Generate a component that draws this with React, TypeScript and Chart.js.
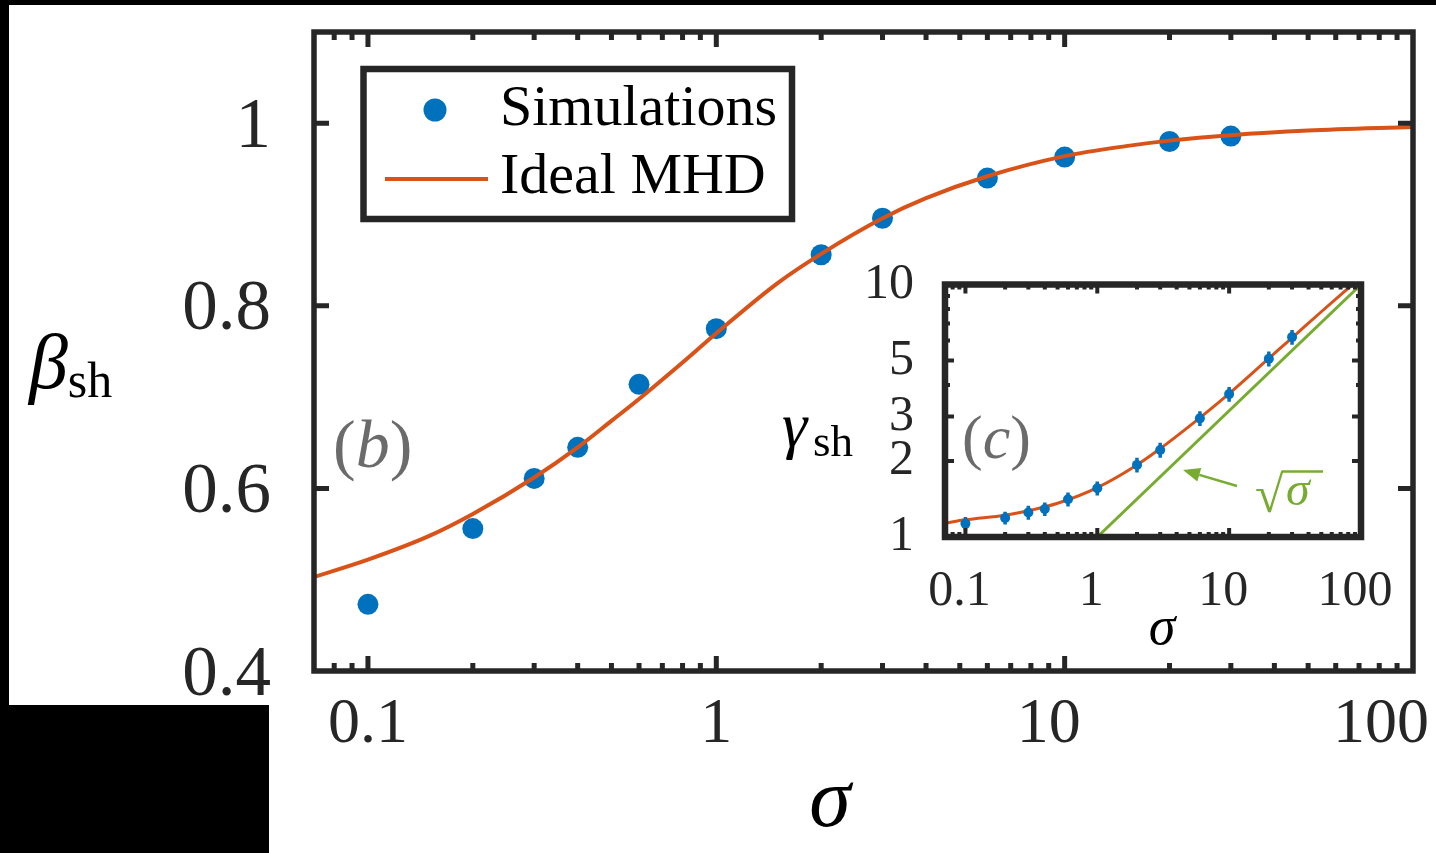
import React, { useEffect, useRef } from 'react';
import { Chart, registerables } from 'chart.js';
Chart.register(...registerables);

// ---------------- data ----------------
const sigmaSim = [0.1, 0.2, 0.3, 0.4, 0.6, 1, 2, 3, 6, 10, 20, 30];
const betaSim = [0.473, 0.556, 0.611, 0.645, 0.714, 0.775, 0.856, 0.896, 0.94, 0.963, 0.98, 0.986];

const sigmaMHD = [0.07, 0.1, 0.15, 0.2, 0.3, 0.4, 0.5, 0.6, 0.8, 1, 1.5, 2, 3, 4, 6, 10, 15, 20, 30, 50, 100];
const betaMHD = [0.503, 0.522, 0.548, 0.572, 0.612, 0.645, 0.674, 0.698, 0.738, 0.77, 0.825, 0.857, 0.896, 0.918, 0.942, 0.964, 0.975, 0.981, 0.987, 0.992, 0.996];

const gammaSim = [1.13, 1.19, 1.25, 1.29, 1.41, 1.56, 1.93, 2.21, 2.95, 3.68, 5.08, 6.19];
const gammaErr = [0.07, 0.07, 0.08, 0.08, 0.09, 0.1, 0.13, 0.15, 0.2, 0.25, 0.35, 0.42];

const sigmaGammaMHD = [0.07, 0.1, 0.2, 0.3, 0.5, 1, 2, 3, 5, 10, 20, 30, 50, 86, 100];
const gammaMHD = [1.135, 1.17, 1.22, 1.27, 1.36, 1.57, 1.93, 2.24, 2.75, 3.7, 5.1, 6.15, 7.8, 10, 10.7];

const sigmaSqrt = [1, 100];
const gammaSqrt = [1, 10];

const xMajorTicks = [0.1, 1, 10, 100];
const xTickLabels = ['0.1', '1', '10', '100'];
const yTicks = [0.4, 0.6, 0.8, 1];
const yTickLabels = ['0.4', '0.6', '0.8', '1'];
const insetYLabelTicks = [1, 2, 3, 5, 10];
const insetYTickLabels = ['1', '2', '3', '5', '10'];

// ---------------- styles ----------------
const FONT = "'Liberation Serif', 'Times New Roman', Times, serif";
const AXIS = '#262626';
const BLUE = '#0072BD';
const ORANGE = '#D95319';
const GREEN = '#77AC30';
const GREY = '#6b6b6b';
const NB = '\u00A0';
const mainXLabelPad = [0, 0, 2, 4];
const INSET_LEFT = 770;
const INSET_TOP = 260;
const INSET_W = 666;
const INSET_H = 400;

function logTickValues(min: number, max: number) {
  const out: number[] = [];
  for (let e = -2; e <= 2; e++) {
    for (let m = 1; m <= 9; m++) {
      const v = Number((m * Math.pow(10, e)).toPrecision(6));
      if (v >= min - 1e-12 && v <= max + 1e-12) out.push(v);
    }
  }
  return out;
}
const isDecade = (v: number) => Math.abs(Math.log10(v) - Math.round(Math.log10(v))) < 1e-9;
const findIdx = (arr: number[], v: number) => arr.findIndex((t) => Math.abs(t - v) / Math.abs(t) < 1e-6);

function drawBoxTicks(chart: any, majorLen: number, minorLen: number, tickW: number, boxW: number) {
  const { ctx, chartArea: a, scales } = chart;
  const xs = scales.x;
  const ys = scales.y;
  ctx.save();
  ctx.strokeStyle = AXIS;
  ctx.lineWidth = tickW;
  ctx.lineCap = 'butt';
  ctx.beginPath();
  for (const t of xs.ticks) {
    const px = xs.getPixelForValue(t.value);
    if (px < a.left + 2 || px > a.right - 2) continue;
    const L = t.major ? majorLen : minorLen;
    ctx.moveTo(px, a.bottom);
    ctx.lineTo(px, a.bottom - L);
    ctx.moveTo(px, a.top);
    ctx.lineTo(px, a.top + L);
  }
  for (const t of ys.ticks) {
    const py = ys.getPixelForValue(t.value);
    if (py < a.top + 2 || py > a.bottom - 2) continue;
    const L = t.major ? majorLen : minorLen;
    ctx.moveTo(a.left, py);
    ctx.lineTo(a.left + L, py);
    ctx.moveTo(a.right, py);
    ctx.lineTo(a.right - L, py);
  }
  ctx.stroke();
  ctx.lineWidth = boxW;
  ctx.lineJoin = 'miter';
  ctx.strokeRect(a.left, a.top, a.right - a.left, a.bottom - a.top);
  ctx.restore();
}

function drawMixed(ctx: any, x: number, y: number, parts: { t: string; f: string }[]) {
  let cx = x;
  for (const p of parts) {
    ctx.font = p.f;
    ctx.fillText(p.t, cx, y);
    cx += ctx.measureText(p.t).width;
  }
  return cx;
}

const mainPlugin = {
  id: 'mainDecor',
  beforeDraw(chart: any) {
    const { ctx, width, height } = chart;
    ctx.save();
    ctx.fillStyle = '#000';
    ctx.fillRect(0, 0, width, height);
    ctx.fillStyle = '#fff';
    ctx.fillRect(9, 5, width - 9, height - 5);
    ctx.fillStyle = '#000';
    ctx.fillRect(0, 705, 269, height - 705);
    ctx.restore();
  },
  afterDatasetsDraw(chart: any) {
    drawBoxTicks(chart, 15, 8, 5, 5.5);
  },
  afterDraw(chart: any) {
    const { ctx } = chart;
    const ds = chart.data.datasets;
    ctx.save();
    // legend
    ctx.fillStyle = '#fff';
    ctx.fillRect(363.5, 69, 428.5, 150);
    ctx.strokeStyle = AXIS;
    ctx.lineWidth = 6.5;
    ctx.strokeRect(363.5, 69, 428.5, 150);
    ctx.fillStyle = ds[0].backgroundColor;
    ctx.beginPath();
    ctx.arc(435, 110, 11.5, 0, Math.PI * 2);
    ctx.fill();
    ctx.strokeStyle = ds[1].borderColor;
    ctx.lineWidth = 4;
    ctx.beginPath();
    ctx.moveTo(385, 179);
    ctx.lineTo(488, 179);
    ctx.stroke();
    ctx.fillStyle = '#000';
    ctx.textBaseline = 'alphabetic';
    ctx.textAlign = 'left';
    ctx.font = `58px ${FONT}`;
    ctx.fillText(ds[0].label, 500, 125);
    ctx.fillText(ds[1].label, 500, 193);
    // (b)
    ctx.fillStyle = GREY;
    drawMixed(ctx, 333, 467, [
      { t: '(', f: `68px ${FONT}` },
      { t: 'b', f: `italic 68px ${FONT}` },
      { t: ')', f: `68px ${FONT}` },
    ]);
    // y title
    ctx.fillStyle = '#000';
    const bx = drawMixed(ctx, 29, 388, [{ t: 'β', f: `italic 78px ${FONT}` }]);
    ctx.font = `50px ${FONT}`;
    ctx.fillText('sh', bx, 397);
    // x title
    ctx.font = `italic 84px ${FONT}`;
    ctx.textAlign = 'center';
    ctx.fillText('σ', 830, 826);
    ctx.restore();
  },
};

const insetPlugin = {
  id: 'insetDecor',
  beforeDatasetDraw(chart: any, args: any) {
    if (args.index !== 0) return;
    const { ctx, scales } = chart;
    ctx.save();
    ctx.strokeStyle = BLUE;
    ctx.lineWidth = 3.5;
    ctx.beginPath();
    sigmaSim.forEach((s, i) => {
      const px = scales.x.getPixelForValue(s);
      ctx.moveTo(px, scales.y.getPixelForValue(gammaSim[i] - gammaErr[i]));
      ctx.lineTo(px, scales.y.getPixelForValue(gammaSim[i] + gammaErr[i]));
    });
    ctx.stroke();
    ctx.restore();
  },
  afterDatasetsDraw(chart: any) {
    drawBoxTicks(chart, 9, 5, 4, 6.5);
  },
  afterDraw(chart: any) {
    const { ctx } = chart;
    ctx.save();
    ctx.translate(-INSET_LEFT, -INSET_TOP);
    ctx.textBaseline = 'alphabetic';
    ctx.textAlign = 'left';
    // y title
    ctx.fillStyle = '#000';
    ctx.font = `italic 64px ${FONT}`;
    ctx.fillText('γ', 782, 446);
    ctx.font = `45px ${FONT}`;
    ctx.fillText('sh', 813, 456);
    // x title
    ctx.font = `italic 54px ${FONT}`;
    ctx.textAlign = 'center';
    ctx.fillText('σ', 1162, 644);
    ctx.textAlign = 'left';
    // (c)
    ctx.fillStyle = GREY;
    drawMixed(ctx, 962, 458, [
      { t: '(', f: `62px ${FONT}` },
      { t: 'c', f: `italic 62px ${FONT}` },
      { t: ')', f: `62px ${FONT}` },
    ]);
    // sqrt(sigma) annotation
    ctx.fillStyle = GREEN;
    ctx.strokeStyle = GREEN;
    ctx.font = `52px ${FONT}`;
    ctx.fillText('√', 1255, 512);
    const m = ctx.measureText('√');
    const topY = 512 - m.actualBoundingBoxAscent + 1.5;
    const endX = 1255 + m.actualBoundingBoxRight;
    ctx.lineWidth = 2.5;
    ctx.beginPath();
    ctx.moveTo(endX - 2, topY);
    ctx.lineTo(1323, topY);
    ctx.stroke();
    ctx.font = `italic 48px ${FONT}`;
    ctx.fillText('σ', endX + 2, 505);
    // arrow
    const x0 = 1237, y0 = 486, tx = 1183, ty = 470;
    const dx = tx - x0, dy = ty - y0;
    const len = Math.hypot(dx, dy);
    const ux = dx / len, uy = dy / len;
    const hx = tx - ux * 17, hy = ty - uy * 17;
    ctx.lineWidth = 2.5;
    ctx.beginPath();
    ctx.moveTo(x0, y0);
    ctx.lineTo(hx, hy);
    ctx.stroke();
    ctx.beginPath();
    ctx.moveTo(tx, ty);
    ctx.lineTo(hx - uy * 7, hy + ux * 7);
    ctx.lineTo(hx + uy * 7, hy - ux * 7);
    ctx.closePath();
    ctx.fill();
    ctx.restore();
  },
};

function MainChart() {
  const ref = useRef<HTMLCanvasElement | null>(null);
  useEffect(() => {
    if (!ref.current) return;
    const xVals = logTickValues(0.07, 100);
    const chart = new Chart(ref.current, {
      type: 'scatter',
      data: {
        datasets: [
          {
            label: 'Simulations',
            data: sigmaSim.map((s, i) => ({ x: s, y: betaSim[i] })),
            backgroundColor: BLUE,
            borderColor: BLUE,
            borderWidth: 0,
            pointRadius: 10.5,
            order: 2,
          },
          {
            label: 'Ideal MHD',
            data: sigmaMHD.map((s, i) => ({ x: s, y: betaMHD[i] })),
            showLine: true,
            borderColor: ORANGE,
            backgroundColor: ORANGE,
            borderWidth: 4,
            pointRadius: 0,
            cubicInterpolationMode: 'monotone',
            order: 1,
          },
        ],
      } as any,
      options: {
        responsive: false,
        animation: false,
        events: [],
        layout: { padding: { left: 0, top: 32, right: 23, bottom: 0 } },
        plugins: { legend: { display: false }, tooltip: { enabled: false } },
        scales: {
          x: {
            type: 'logarithmic',
            min: 0.07,
            max: 100,
            grid: { display: false, drawTicks: false },
            border: { display: false },
            ticks: {
              autoSkip: false,
              maxRotation: 0,
              padding: 16,
              color: AXIS,
              font: { family: FONT, size: 64 },
              callback: (v: any) => {
                const i = findIdx(xMajorTicks, Number(v));
                return i < 0 ? '' : xTickLabels[i] + NB.repeat(mainXLabelPad[i]);
              },
            },
            afterBuildTicks: (s: any) => {
              s.ticks = xVals.map((v) => ({ value: v, major: isDecade(v) }));
            },
            afterFit: (s: any) => {
              s.height = 182;
              s.paddingLeft = 0;
              s.paddingRight = 0;
            },
          },
          y: {
            type: 'linear',
            min: 0.4,
            max: 1.1,
            grid: { display: false, drawTicks: false },
            border: { display: false },
            ticks: {
              autoSkip: false,
              padding: 43,
              labelOffset: 5,
              color: AXIS,
              font: { family: FONT, size: 71 },
              callback: (v: any) => {
                const i = findIdx(yTicks, Number(v));
                return i < 0 ? '' : yTickLabels[i];
              },
            },
            afterBuildTicks: (s: any) => {
              s.ticks = yTicks.map((v) => ({ value: v, major: true }));
            },
            afterFit: (s: any) => {
              s.width = 314;
              s.paddingTop = 0;
              s.paddingBottom = 0;
            },
          },
        },
      } as any,
      plugins: [mainPlugin],
    });
    return () => chart.destroy();
  }, []);
  return <canvas ref={ref} width={1436} height={853} style={{ position: 'absolute', left: 0, top: 0 }} />;
}

function InsetChart() {
  const ref = useRef<HTMLCanvasElement | null>(null);
  useEffect(() => {
    if (!ref.current) return;
    const xVals = logTickValues(0.07, 100);
    const yVals = logTickValues(1, 10);
    const chart = new Chart(ref.current, {
      type: 'scatter',
      data: {
        datasets: [
          {
            label: 'Simulations',
            data: sigmaSim.map((s, i) => ({ x: s, y: gammaSim[i] })),
            backgroundColor: BLUE,
            borderWidth: 0,
            pointRadius: 5,
            order: 1,
          },
          {
            label: 'Ideal MHD',
            data: sigmaGammaMHD.map((s, i) => ({ x: s, y: gammaMHD[i] })),
            showLine: true,
            borderColor: ORANGE,
            borderWidth: 3,
            pointRadius: 0,
            cubicInterpolationMode: 'monotone',
            order: 2,
          },
          {
            label: 'sqrt(sigma)',
            data: sigmaSqrt.map((s, i) => ({ x: s, y: gammaSqrt[i] })),
            showLine: true,
            borderColor: GREEN,
            borderWidth: 3,
            pointRadius: 0,
            order: 3,
          },
        ],
      } as any,
      options: {
        responsive: false,
        animation: false,
        events: [],
        layout: { padding: { left: 0, top: 24.5, right: 75, bottom: 0 } },
        plugins: { legend: { display: false }, tooltip: { enabled: false } },
        scales: {
          x: {
            type: 'logarithmic',
            min: 0.07,
            max: 100,
            grid: { display: false, drawTicks: false },
            border: { display: false },
            ticks: {
              autoSkip: false,
              maxRotation: 0,
              padding: 25,
              labelOffset: -6,
              color: AXIS,
              font: { family: FONT, size: 50 },
              callback: (v: any) => {
                const i = findIdx(xMajorTicks, Number(v));
                return i < 0 ? '' : xTickLabels[i];
              },
            },
            afterBuildTicks: (s: any) => {
              s.ticks = xVals.map((v) => ({ value: v, major: isDecade(v) }));
            },
            afterFit: (s: any) => {
              s.height = INSET_H - 277;
              s.paddingLeft = 0;
              s.paddingRight = 0;
            },
          },
          y: {
            type: 'logarithmic',
            min: 1,
            max: 10,
            grid: { display: false, drawTicks: false },
            border: { display: false },
            ticks: {
              autoSkip: false,
              padding: 31,
              color: AXIS,
              font: { family: FONT, size: 50 },
              callback: (v: any) => {
                const i = findIdx(insetYLabelTicks, Number(v));
                return i < 0 ? '' : insetYTickLabels[i];
              },
            },
            afterBuildTicks: (s: any) => {
              s.ticks = yVals.map((v) => ({ value: v, major: findIdx(insetYLabelTicks, v) >= 0 }));
            },
            afterFit: (s: any) => {
              s.width = 175;
              s.paddingTop = 0;
              s.paddingBottom = 0;
            },
          },
        },
      } as any,
      plugins: [insetPlugin],
    });
    return () => chart.destroy();
  }, []);
  return (
    <canvas
      ref={ref}
      width={INSET_W}
      height={INSET_H}
      style={{ position: 'absolute', left: INSET_LEFT, top: INSET_TOP }}
    />
  );
}

export default function App() {
  return (
    <div style={{ position: 'fixed', left: 0, top: 0, width: 1436, height: 853, overflow: 'hidden' }}>
      <MainChart />
      <InsetChart />
    </div>
  );
}
